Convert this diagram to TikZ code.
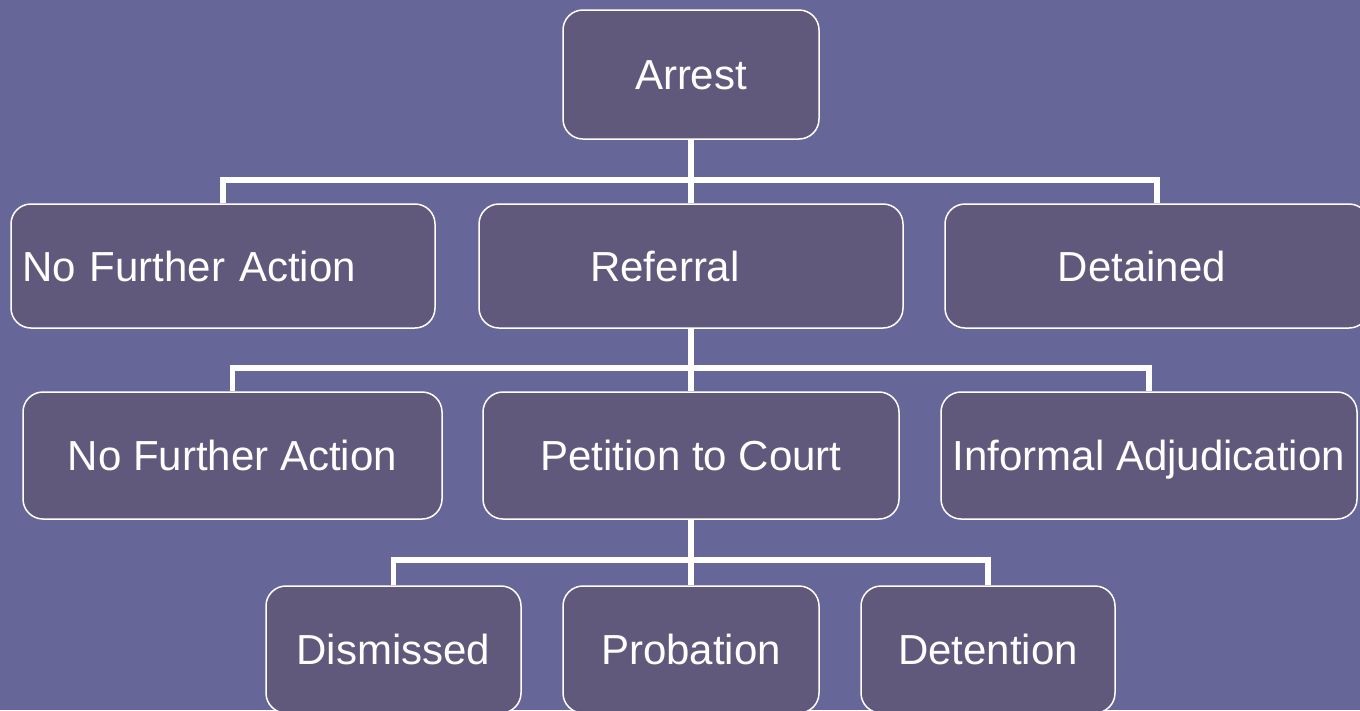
\documentclass[tikz,border=0pt]{standalone}
\usepackage{fontspec}
\setmainfont{Liberation Sans}
\usetikzlibrary{positioning}
\definecolor{slateback}{RGB}{102,102,153}
\definecolor{stagefill}{RGB}{97,89,124}

\begin{document}
\begin{tikzpicture}[x=1pt, y=-1pt,
  stage/.style={draw=white, line width=1.5pt, fill=stagefill, rounded corners=20pt,
    text=white, font=\fontsize{42}{50}\selectfont, inner sep=0pt,
    text height=30pt, text depth=0pt,
    minimum width=#1, minimum height=127pt},
  bus/.style={draw=white, line width=5.5pt}]
  %----- canvas -----
  \useasboundingbox (0,0) rectangle (1360,710);
  \clip (0,0) rectangle (1360,710);
  \fill[slateback] (0,0) rectangle (1360,710);

  %----- level 1 -----
  \node[stage=256pt, minimum height=129pt] (arrest) at (691,74.5) {Arrest};

  %----- level 2 -----
  \node[stage=424pt, minimum height=124pt, text width=402pt, align=left]
    (nfaA) at (223,266) {No Further Action};
  \node[stage=424pt, minimum height=124pt] (referral) at (691,266) {Referral\hspace*{52pt}};
  \node[stage=424pt, minimum height=124pt] (detained) at (1157,266) {Detained\hspace*{30pt}};

  %----- level 3 -----
  \node[stage=419pt] (nfaB)     at (232.5,455.5) {No Further Action};
  \node[stage=416pt] (petition) at (691,455.5)   {Petition to Court};
  \node[stage=416pt] (informal) at (1149,455.5)  {Informal Adjudication};

  %----- level 4 -----
  \node[stage=255pt] (dismissed) at (393.5,649.5) {Dismissed};
  \node[stage=256pt] (probation) at (691,649.5)   {Probation};
  \node[stage=254pt] (detention) at (988,649.5)   {Detention};

  %----- connectors -----
  \coordinate (busA) at (691,180);
  \coordinate (busB) at (691,368);
  \coordinate (busC) at (691,560);
  \draw[bus] (arrest.south) -- (referral.north);
  \draw[bus] (nfaA.north) |- (busA) -| (detained.north);
  \draw[bus] (referral.south) -- (petition.north);
  \draw[bus] (nfaB.north) |- (busB) -| (informal.north);
  \draw[bus] (petition.south) -- (probation.north);
  \draw[bus] (dismissed.north) |- (busC) -| (detention.north);
\end{tikzpicture}
\end{document}
